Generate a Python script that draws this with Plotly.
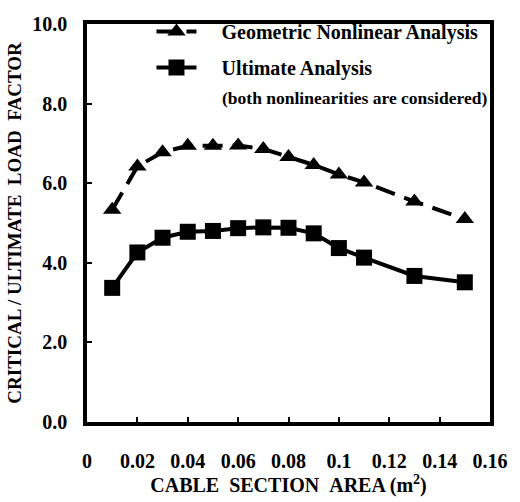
import plotly.graph_objects as go

area = [0.01, 0.02, 0.03, 0.04, 0.05, 0.06, 0.07, 0.08, 0.09, 0.10, 0.11, 0.13, 0.15]
geometric = [5.33, 6.42, 6.78, 6.94, 6.94, 6.95, 6.86, 6.66, 6.46, 6.22, 6.02, 5.54, 5.10]
ultimate = [3.37, 4.26, 4.63, 4.78, 4.80, 4.87, 4.89, 4.88, 4.74, 4.37, 4.13, 3.67, 3.51]
x_ticks = [0, 0.02, 0.04, 0.06, 0.08, 0.10, 0.12, 0.14, 0.16]
x_ticklabels = ["0", "0.02", "0.04", "0.06", "0.08", "0.1", "0.12", "0.14", "0.16"]
y_ticks = [0, 2, 4, 6, 8, 10]
y_ticklabels = ["0.0", "2.0", "4.0", "6.0", "8.0", "10.0"]

FONT = "Liberation Serif"
font = dict(family=FONT, size=20, color="black", weight="bold")
pad = "\u00a0" * 4

fig = go.Figure()
fig.add_trace(go.Scatter(
    x=area, y=geometric, mode="lines+markers",
    name=pad + "<b>Geometric Nonlinear Analysis</b>",
    legendgroup="g1",
    line=dict(color="black", width=4, dash="20px,10px"),
    marker=dict(symbol="triangle-up", size=16, color="black"),
))
fig.add_trace(go.Scatter(
    x=area, y=ultimate, mode="lines+markers",
    name=pad + "<b>Ultimate Analysis</b>",
    legendgroup="g2",
    line=dict(color="black", width=4),
    marker=dict(symbol="square", size=16, color="black"),
))

fig.update_layout(
    width=520, height=502,
    margin=dict(l=86, r=26, t=16, b=70),
    paper_bgcolor="white", plot_bgcolor="white",
    font=font,
    showlegend=True,
    legend=dict(x=0.16, y=1.03, xanchor="left", yanchor="top",
                bgcolor="rgba(0,0,0,0)", font=font,
                tracegroupgap=7, itemwidth=40),
    xaxis=dict(
        range=[0, 0.16], tickvals=x_ticks, ticktext=x_ticklabels,
        showgrid=False, zeroline=False,
        showline=True, linecolor="black", linewidth=3.5, mirror=True,
        ticks="inside", ticklen=5, tickwidth=2, tickcolor="black",
        ticklabelstandoff=18,
        title=dict(text="CABLE\u00a0\u00a0SECTION\u00a0\u00a0AREA (m<sup>2</sup>)", font=font, standoff=4),
        tickfont=font,
    ),
    yaxis=dict(
        range=[0, 10], tickvals=y_ticks, ticktext=y_ticklabels,
        showgrid=False, zeroline=False,
        showline=True, linecolor="black", linewidth=3.5, mirror=True,
        ticks="inside", ticklen=5, tickwidth=2, tickcolor="black",
        ticklabelstandoff=12,
        title=dict(text="CRITICAL / ULTIMATE\u00a0\u00a0LOAD\u00a0\u00a0FACTOR",
                   font=dict(family=FONT, size=19, color="black", weight="bold"), standoff=7),
        tickfont=font,
    ),
)
fig.add_annotation(
    xref="paper", yref="paper", x=0.33, y=0.815, xanchor="left", yanchor="middle",
    text="<b>(both nonlinearities are considered)</b>", showarrow=False,
    font=dict(family=FONT, size=17.5, weight="bold", color="black"),
)
fig.write_html("out.html")
